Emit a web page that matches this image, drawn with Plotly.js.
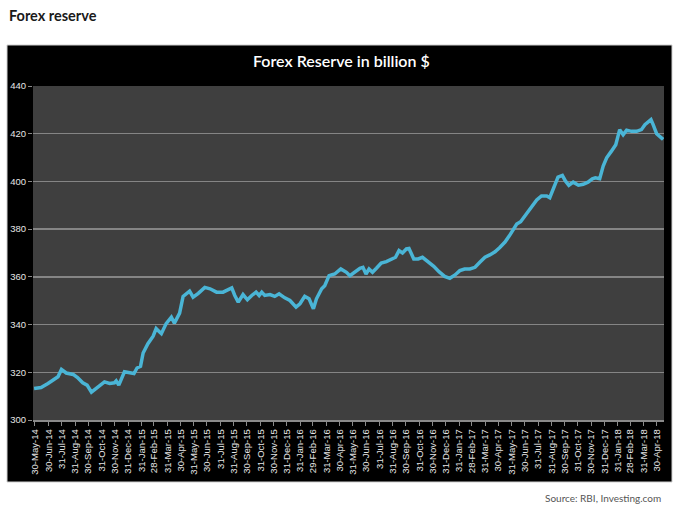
<!DOCTYPE html>
<html><head><meta charset="utf-8">
<script src="https://cdn.plot.ly/plotly-3.0.1.min.js"></script>
<style>html,body{margin:0;padding:0;background:#fff}#chart{width:680px;height:509px}</style>
</head><body><div id="chart"></div>
<script>
// Weekly forex reserve (billion $)
const dates = [
"2014-05-28","2014-06-13","2014-06-29","2014-07-14","2014-07-22","2014-07-30","2014-08-10","2014-08-26",
"2014-09-05","2014-09-17","2014-09-27","2014-10-07","2014-10-18","2014-10-30","2014-11-06","2014-11-18",
"2014-11-29","2014-12-03","2014-12-09","2014-12-22","2015-01-03","2015-01-13","2015-01-20","2015-01-28",
"2015-02-03","2015-02-14","2015-02-26","2015-03-05","2015-03-17","2015-03-28","2015-04-09","2015-04-16",
"2015-04-28","2015-05-06","2015-05-21","2015-05-29","2015-06-10","2015-06-25","2015-07-07","2015-07-22",
"2015-08-06","2015-08-14","2015-08-26","2015-09-02","2015-09-10","2015-09-21","2015-10-01","2015-10-11",
"2015-10-21","2015-10-28","2015-11-03","2015-11-10","2015-11-22","2015-12-03","2015-12-13","2015-12-26",
"2016-01-07","2016-01-21","2016-01-30","2016-02-10","2016-02-20","2016-03-01","2016-03-08","2016-03-20",
"2016-03-27","2016-04-06","2016-04-19","2016-05-03","2016-05-16","2016-05-24","2016-06-04","2016-06-16",
"2016-06-23","2016-06-30","2016-07-07","2016-07-15","2016-07-24","2016-08-04","2016-08-16","2016-08-28",
"2016-09-06","2016-09-14","2016-09-22","2016-10-01","2016-10-07","2016-10-18","2016-10-28","2016-11-07",
"2016-11-20","2016-12-03","2016-12-15","2016-12-28","2017-01-09","2017-01-21","2017-02-01","2017-02-12",
"2017-02-24","2017-03-08","2017-03-19","2017-03-31","2017-04-11","2017-04-23","2017-05-04","2017-05-16",
"2017-05-26","2017-06-05","2017-06-12","2017-06-21","2017-07-01","2017-07-08","2017-07-18","2017-07-28",
"2017-08-08","2017-08-20","2017-08-27","2017-09-06","2017-09-15","2017-09-25","2017-10-02","2017-10-10",
"2017-10-20","2017-11-01","2017-11-12","2017-11-23","2017-12-03","2017-12-10","2017-12-20","2017-12-28",
"2018-01-05","2018-01-16","2018-01-26","2018-02-04","2018-02-12","2018-02-20","2018-03-03","2018-03-15",
"2018-03-26","2018-04-03","2018-04-17","2018-04-22","2018-04-30","2018-05-15"
];
const reserves = [
313.2,313.6,315.3,317.0,318.1,321.2,319.7,319.1,
317.8,315.6,314.6,311.7,313.2,314.6,316.0,315.3,
315.6,316.4,314.6,320.2,319.7,319.5,321.8,322.5,
328.1,332.0,335.1,338.3,336.2,340.4,343.1,340.6,
344.8,351.8,354.0,351.5,353.1,355.6,355.0,353.6,
353.6,354.3,355.4,352.2,349.4,352.6,350.4,352.2,
353.6,352.2,353.6,352.2,352.6,351.8,352.9,351.2,
350.1,347.3,348.7,351.8,350.8,346.6,350.8,355.0,
356.3,360.5,361.2,363.3,361.9,360.5,361.9,363.6,
364.0,361.2,363.3,361.9,363.6,365.8,366.4,367.5,
368.2,371.0,370.0,371.7,371.9,367.5,367.5,368.2,
366.4,364.4,362.2,360.2,359.4,360.8,362.6,363.3,
363.3,364.0,366.1,368.2,369.2,370.5,372.3,374.6,
377.2,380.0,382.1,383.1,385.6,386.9,389.7,392.2,
393.9,393.9,393.2,398.1,401.8,402.5,400.2,398.4,
399.7,398.4,398.8,399.7,401.1,401.5,401.1,406.4,
409.9,412.7,415.4,421.7,419.6,421.5,421.0,421.0,
421.7,423.8,425.9,423.8,420.0,417.6
];
const tickDates = [
"2014-05-30","2014-06-30","2014-07-31","2014-08-31","2014-09-30","2014-10-31","2014-11-30","2014-12-31",
"2015-01-31","2015-02-28","2015-03-31","2015-04-30","2015-05-31","2015-06-30","2015-07-31","2015-08-31",
"2015-09-30","2015-10-31","2015-11-30","2015-12-31","2016-01-31","2016-02-29","2016-03-31","2016-04-30",
"2016-05-31","2016-06-30","2016-07-31","2016-08-31","2016-09-30","2016-10-31","2016-11-30","2016-12-31",
"2017-01-31","2017-02-28","2017-03-31","2017-04-30","2017-05-31","2017-06-30","2017-07-31","2017-08-31",
"2017-09-30","2017-10-31","2017-11-30","2017-12-31","2018-01-31","2018-02-28","2018-03-31","2018-04-30"
];
const tickLabels = [
"30-May-14","30-Jun-14","31-Jul-14","31-Aug-14","30-Sep-14","31-Oct-14","30-Nov-14","31-Dec-14",
"31-Jan-15","28-Feb-15","31-Mar-15","30-Apr-15","31-May-15","30-Jun-15","31-Jul-15","31-Aug-15",
"30-Sep-15","31-Oct-15","30-Nov-15","31-Dec-15","31-Jan-16","29-Feb-16","31-Mar-16","30-Apr-16",
"31-May-16","30-Jun-16","31-Jul-16","31-Aug-16","30-Sep-16","31-Oct-16","30-Nov-16","31-Dec-16",
"31-Jan-17","28-Feb-17","31-Mar-17","30-Apr-17","31-May-17","30-Jun-17","31-Jul-17","31-Aug-17",
"30-Sep-17","31-Oct-17","30-Nov-17","31-Dec-17","31-Jan-18","28-Feb-18","31-Mar-18","30-Apr-18"
];
const yTicks = [300,320,340,360,380,400,420,440];
const pageTitle = "Forex reserve";
const chartTitle = "Forex Reserve in billion $";
const sourceText = "Source: RBI, Investing.com";

// pixel helpers for layout placement (plot area: x 33..664, y 86..420)
const W = 680, H = 509, L = 33, R = 664, T = 86, B = 420;
const px = x => (x - L) / (R - L);
const py = y => (B - y) / (B - T);
const TITLE_FONT = 'Lato, Liberation Sans, Arial, sans-serif';

const trace = {
  x: dates, y: reserves, type: 'scatter', mode: 'lines',
  line: {color: '#4AB5D6', width: 3.5, shape: 'linear'},
  hoverinfo: 'skip'
};

const layout = {
  width: W, height: H,
  margin: {l: L, r: W - R, t: T, b: H - B, pad: 0},
  paper_bgcolor: '#ffffff',
  plot_bgcolor: '#3f3f3f',
  showlegend: false,
  xaxis: {
    type: 'date',
    range: ['2014-05-25 12:00', '2018-05-17'],
    tickmode: 'array', tickvals: tickDates, ticktext: tickLabels,
    tickangle: -90,
    tickfont: {family: 'Liberation Sans, Arial, sans-serif', size: 9.5, color: '#e6e6e6'},
    ticks: 'outside', ticklen: 4, tickcolor: '#8a8a8a', tickwidth: 1,
    showgrid: false, zeroline: false,
    showline: true, linecolor: '#8a8a8a', linewidth: 1.5
  },
  yaxis: {
    range: [300, 440],
    tickmode: 'array', tickvals: yTicks,
    tickfont: {family: 'Liberation Sans, Arial, sans-serif', size: 9.5, color: '#e6e6e6'},
    ticks: 'outside', ticklen: 4, tickcolor: '#8a8a8a', tickwidth: 1,
    showgrid: true, gridcolor: '#858585', gridwidth: 1.5,
    zeroline: false, showline: false
  },
  shapes: [
    {type: 'rect', xref: 'paper', yref: 'paper', layer: 'below',
     x0: px(7), x1: px(672), y0: py(482), y1: py(45),
     fillcolor: '#000000', line: {color: '#cfcfcf', width: 1}},
    {type: 'rect', xref: 'paper', yref: 'paper', layer: 'below',
     x0: 0, x1: 1, y0: 0, y1: 1,
     fillcolor: '#3f3f3f', line: {width: 0}}
  ],
  annotations: [
    {text: '<b>' + pageTitle + '</b>', xref: 'paper', yref: 'paper',
     x: px(7), y: py(15), xanchor: 'left', yanchor: 'middle', showarrow: false,
     font: {family: TITLE_FONT, size: 14.5, color: '#1a1a1a'}},
    {text: chartTitle, xref: 'paper', yref: 'paper',
     x: px(341), y: py(61), xanchor: 'center', yanchor: 'middle', showarrow: false,
     font: {family: TITLE_FONT, size: 16, weight: 600, color: '#ffffff'}},
    {text: sourceText, xref: 'paper', yref: 'paper',
     x: px(663), y: py(498), xanchor: 'right', yanchor: 'middle', showarrow: false,
     font: {family: TITLE_FONT, size: 10, color: '#555555'}}
  ]
};

Plotly.newPlot('chart', [trace], layout, {staticPlot: true, displayModeBar: false});
</script></body></html>
